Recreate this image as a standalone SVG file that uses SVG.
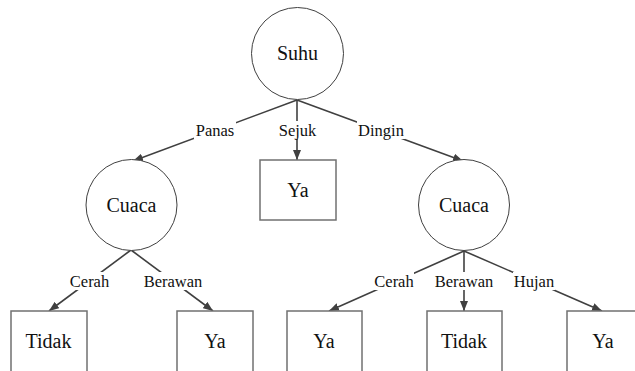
<svg xmlns="http://www.w3.org/2000/svg" width="635" height="371" viewBox="0 0 635 371">
<style>
.node circle{fill:#fff;stroke:#404040;stroke-width:1}
.node rect{fill:#fff;stroke:#707070;stroke-width:1.5}
text{font-family:'Liberation Serif','Times New Roman',Times,serif;fill:#111;text-anchor:middle}
.nt{font-size:20px}
.el{font-size:16.5px}
.edge line{stroke:#404040;stroke-width:1.6;fill:none}
.lbg{fill:#fff}
</style>
<defs>
<marker id="arr" viewBox="0 0 10 8" refX="10" refY="4" markerWidth="10" markerHeight="8" markerUnits="userSpaceOnUse" orient="auto">
<path d="M0,0 L10,4 L0,8 Z" fill="#404040"/>
</marker>
</defs>
<rect width="635" height="371" fill="#fff"/>
<g id="connectors" class="edge">
<line x1="297" y1="100" x2="133" y2="161" marker-end="url(#arr)"/>
<line x1="297" y1="100" x2="297" y2="160" marker-end="url(#arr)"/>
<line x1="297" y1="100" x2="463" y2="161" marker-end="url(#arr)"/>
<line x1="131" y1="250" x2="49" y2="311" marker-end="url(#arr)"/>
<line x1="131" y1="250" x2="213" y2="311" marker-end="url(#arr)"/>
<line x1="464" y1="251" x2="329" y2="311" marker-end="url(#arr)"/>
<line x1="464" y1="251" x2="464" y2="311" marker-end="url(#arr)"/>
<line x1="464" y1="251" x2="602" y2="311" marker-end="url(#arr)"/>
<g id="edge-labels">
<rect class="lbg" x="194" y="121" width="42" height="18"/>
<text class="el" x="215" y="136" font-family="Liberation Serif, serif">Panas</text>
<rect class="lbg" x="277" y="121" width="41" height="18"/>
<text class="el" x="297.5" y="136" font-family="Liberation Serif, serif">Sejuk</text>
<rect class="lbg" x="357" y="121" width="48" height="18"/>
<text class="el" x="381" y="136" font-family="Liberation Serif, serif">Dingin</text>
<rect class="lbg" x="69" y="272" width="41" height="18"/>
<text class="el" x="89.5" y="287" font-family="Liberation Serif, serif">Cerah</text>
<rect class="lbg" x="142" y="272" width="62" height="18"/>
<text class="el" x="173" y="287" font-family="Liberation Serif, serif">Berawan</text>
<rect class="lbg" x="373" y="272" width="41" height="18"/>
<text class="el" x="394" y="287" font-family="Liberation Serif, serif">Cerah</text>
<rect class="lbg" x="433" y="272" width="62" height="18"/>
<text class="el" x="464" y="287" font-family="Liberation Serif, serif">Berawan</text>
<rect class="lbg" x="513" y="272" width="42" height="18"/>
<text class="el" x="534" y="287" font-family="Liberation Serif, serif">Hujan</text>
</g>
</g>
<g id="suhu" class="node"><circle cx="297.5" cy="53.5" r="46"/><text class="nt" x="297.5" y="60">Suhu</text></g>
<g id="cuaca1" class="node"><circle cx="131.5" cy="205" r="45.5"/><text class="nt" x="131.5" y="212">Cuaca</text></g>
<g id="cuaca2" class="node"><circle cx="464" cy="205" r="45.5"/><text class="nt" x="464" y="212">Cuaca</text></g>
<g id="ya-sejuk" class="node"><rect x="260" y="160" width="76" height="60"/><text class="nt" x="298" y="197">Ya</text></g>
<g id="tidak1" class="node"><rect x="11" y="311" width="76" height="62"/><text class="nt" x="48.5" y="348">Tidak</text></g>
<g id="ya1" class="node"><rect x="177" y="311" width="76" height="62"/><text class="nt" x="215" y="348">Ya</text></g>
<g id="ya2" class="node"><rect x="287" y="311" width="75" height="62"/><text class="nt" x="324" y="348">Ya</text></g>
<g id="tidak2" class="node"><rect x="427" y="311" width="75" height="62"/><text class="nt" x="464" y="348">Tidak</text></g>
<g id="ya3" class="node"><rect x="567" y="311" width="76" height="62"/><text class="nt" x="603" y="348">Ya</text></g>
</svg>
